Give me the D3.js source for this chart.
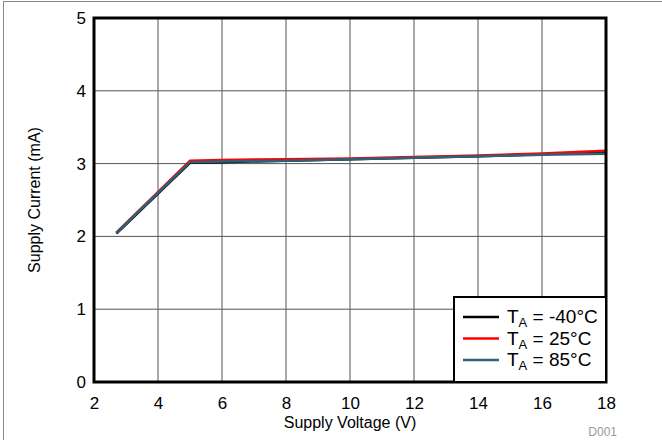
<!DOCTYPE html>
<html>
<head>
<meta charset="utf-8">
<script src="https://cdn.jsdelivr.net/npm/d3@7"></script>
<style>
  body { margin: 0; background: #fff; }
  text { font-family: Arial, "Liberation Sans", sans-serif; }
</style>
</head>
<body>
<div id="chart"></div>
<script>
// Data
var voltage = [2.7, 5, 6, 8, 10, 12, 14, 16, 18];
var curM40 = [2.04, 3.01, 3.02, 3.04, 3.06, 3.08, 3.10, 3.13, 3.16];
var cur25 = [2.05, 3.04, 3.05, 3.06, 3.07, 3.09, 3.11, 3.14, 3.175];
var cur85 = [2.05, 3.02, 3.03, 3.04, 3.06, 3.08, 3.10, 3.12, 3.135];
var seriesNames = ["-40°C", "25°C", "85°C"];
var xTicks = [2, 4, 6, 8, 10, 12, 14, 16, 18];
var yTicks = [0, 1, 2, 3, 4, 5];

var colors = ["#000000", "#ff0000", "#2f6079"];
var seriesData = [curM40, cur25, cur85];

var W = 662, H = 440;
var svg = d3.select("#chart").append("svg")
    .attr("width", W)
    .attr("height", H);

// outer frame
svg.append("rect")
    .attr("x", 3.5).attr("y", 1.5)
    .attr("width", 662).attr("height", 442)
    .attr("fill", "none")
    .attr("stroke", "#888")
    .attr("stroke-width", 1);

var xScale = d3.scaleLinear().domain([2, 18]).range([94, 606]);
var yScale = d3.scaleLinear().domain([0, 5]).range([382, 18]);

// grid
svg.append("g").selectAll("line")
    .data(xTicks.slice(1, -1))
    .enter().append("line")
    .attr("x1", d => xScale(d)).attr("x2", d => xScale(d))
    .attr("y1", yScale(0)).attr("y2", yScale(5))
    .attr("stroke", "#555").attr("stroke-width", 1);

svg.append("g").selectAll("line")
    .data(yTicks.slice(1, -1))
    .enter().append("line")
    .attr("x1", xScale(2)).attr("x2", xScale(18))
    .attr("y1", d => yScale(d)).attr("y2", d => yScale(d))
    .attr("stroke", "#555").attr("stroke-width", 1);

// axes (labels only)
var xAxis = svg.append("g")
    .attr("transform", "translate(0," + yScale(0) + ")")
    .call(d3.axisBottom(xScale).tickValues(xTicks).tickFormat(d3.format("d")).tickSize(0).tickPadding(15));
var yAxis = svg.append("g")
    .attr("transform", "translate(" + xScale(2) + ",0)")
    .call(d3.axisLeft(yScale).tickValues(yTicks).tickFormat(d3.format("d")).tickSize(0).tickPadding(8));
[xAxis, yAxis].forEach(function (a) {
    a.select(".domain").remove();
    a.selectAll("text").style("font-size", "17px").attr("fill", "#000");
});

// lines
var line = d3.line()
    .x((d, i) => xScale(voltage[i]))
    .y(d => yScale(d));

seriesData.forEach(function (s, k) {
    svg.append("path")
        .datum(s)
        .attr("d", line)
        .attr("fill", "none")
        .attr("stroke", colors[k])
        .attr("stroke-width", 2.5)
        .attr("stroke-linejoin", "miter");
});

// plot frame
svg.append("rect")
    .attr("x", xScale(2)).attr("y", yScale(5))
    .attr("width", xScale(18) - xScale(2))
    .attr("height", yScale(0) - yScale(5))
    .attr("fill", "none")
    .attr("stroke", "#000")
    .attr("stroke-width", 3);

// legend
var legend = svg.append("g");
legend.append("rect")
    .attr("x", 454).attr("y", 297)
    .attr("width", xScale(18) - 454)
    .attr("height", yScale(0) - 297)
    .attr("fill", "#fff")
    .attr("stroke", "#000")
    .attr("stroke-width", 2);

seriesNames.forEach(function (name, k) {
    var y = 317 + k * 21.5;
    legend.append("line")
        .attr("x1", 463).attr("x2", 499)
        .attr("y1", y).attr("y2", y)
        .attr("stroke", colors[k])
        .attr("stroke-width", 2.5);
    var t = legend.append("text")
        .attr("x", 507).attr("y", y + 6)
        .style("font-size", "19px");
    t.append("tspan").text("T");
    t.append("tspan").attr("dy", 4).style("font-size", "13px").text("A");
    t.append("tspan").attr("dy", -4).text(" = " + name);
});

// axis titles
svg.append("text")
    .attr("x", 350).attr("y", 428)
    .attr("text-anchor", "middle")
    .style("font-size", "16px")
    .text("Supply Voltage (V)");

svg.append("text")
    .attr("transform", "translate(40,200) rotate(-90)")
    .attr("text-anchor", "middle")
    .style("font-size", "16px")
    .text("Supply Current (mA)");

svg.append("text")
    .attr("x", 617).attr("y", 436)
    .attr("text-anchor", "end")
    .attr("fill", "#999")
    .style("font-size", "12px")
    .text("D001");
</script>
</body>
</html>
